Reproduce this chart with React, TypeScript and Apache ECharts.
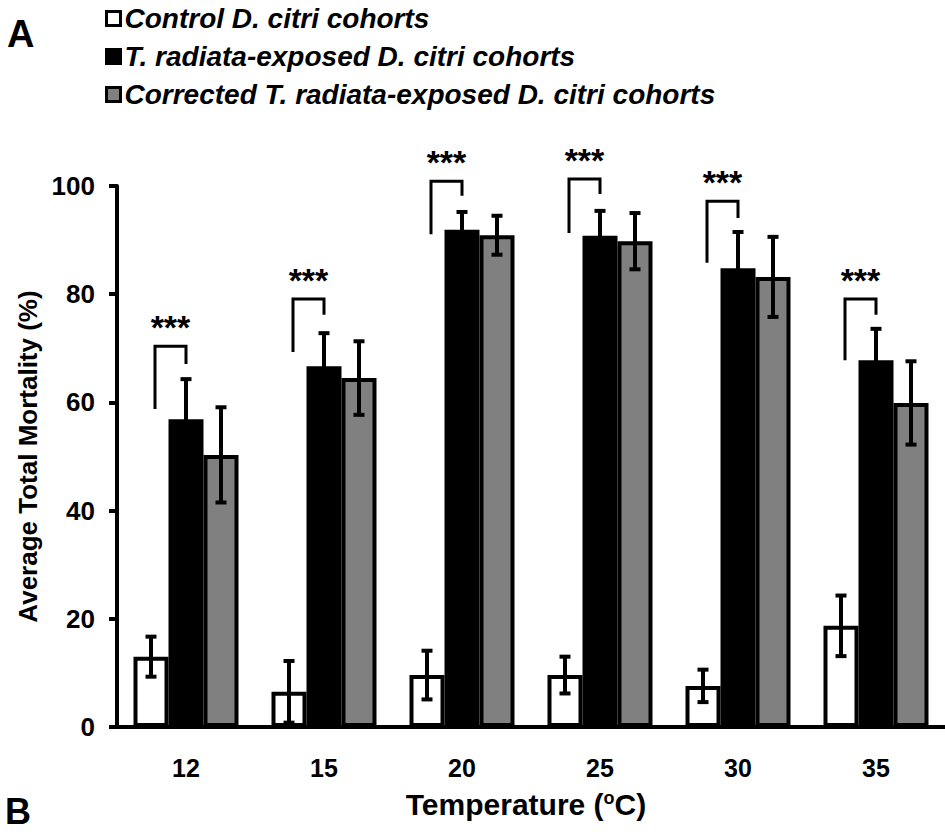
import React, { useEffect, useRef } from "react";
import * as echarts from "echarts";

const categories = ["12", "15", "20", "25", "30", "35"];
const seriesNames = [
  "Control D. citri cohorts",
  "T. radiata-exposed D. citri cohorts",
  "Corrected T. radiata-exposed D. citri cohorts",
];
const controlMean = [13.0, 6.5, 9.6, 9.6, 7.6, 18.7];
const controlErr = [3.7, 5.7, 4.5, 3.4, 3.0, 5.6];
const exposedMean = [56.9, 66.7, 91.9, 90.8, 84.8, 67.8];
const exposedErr = [7.4, 6.1, 3.3, 4.6, 6.7, 5.8];
const correctedMean = [50.3, 64.5, 90.9, 89.8, 83.2, 59.9];
const correctedErr = [8.8, 6.8, 3.6, 5.2, 7.4, 7.7];
// significance brackets (values on the y scale)
const bracketTop = [70.4, 79.1, 100.9, 101.3, 97.2, 79.1];
const bracketLeftEnd = [58.8, 69.3, 91.1, 91.3, 85.8, 67.8];
const bracketRightEnd = [67.1, 76.2, 98.2, 98.5, 94.1, 76.2];
const significance = ["***", "***", "***", "***", "***", "***"];
const yTicks = [0, 20, 40, 60, 80, 100];

const FONT = '"Liberation Sans", Arial, sans-serif';
const BAR_W = 35;

export default function App() {
  const ref = useRef<HTMLDivElement>(null);
  useEffect(() => {
    document.body.style.margin = "0";
    const chart = echarts.init(ref.current!, null, { renderer: "svg" });

    const errorSeries = (name: string, means: number[], errs: number[], offset: number) => ({
      type: "custom",
      name: name + " error",
      data: means.map((m, i) => [i, m - errs[i], m + errs[i]]),
      encode: { x: 0, y: [1, 2] },
      z: 5,
      silent: true,
      renderItem: (params: any, api: any) => {
        const lo = api.coord([api.value(0), api.value(1)]);
        const hi = api.coord([api.value(0), api.value(2)]);
        const x = lo[0] + offset;
        const cap = 5.5;
        const st = { stroke: "#000", lineWidth: 4 };
        return {
          type: "group",
          children: [
            { type: "line", shape: { x1: x, y1: lo[1], x2: x, y2: hi[1] }, style: st },
            { type: "line", shape: { x1: x - cap, y1: hi[1], x2: x + cap, y2: hi[1] }, style: st },
            { type: "line", shape: { x1: x - cap, y1: lo[1], x2: x + cap, y2: lo[1] }, style: st },
          ],
        };
      },
    });

    const option: any = {
      animation: false,
      backgroundColor: "#fff",
      grid: { left: 117, top: 186, width: 834, height: 541, containLabel: false },
      legend: {
        data: seriesNames,
        orient: "vertical",
        left: 100,
        top: -1,
        itemWidth: 14,
        itemHeight: 14,
        itemGap: 9,
        icon: "rect",
        itemStyle: { borderWidth: 3 },
        textStyle: {
          fontFamily: FONT,
          fontSize: 28,
          fontWeight: "bold",
          fontStyle: "italic",
          color: "#000",
          lineHeight: 29,
          padding: [0, 0, 0, -1],
        },
      },
      xAxis: {
        type: "category",
        data: categories,
        axisLine: { lineStyle: { color: "#000", width: 4 } },
        axisTick: { show: false },
        axisLabel: { fontFamily: FONT, fontSize: 25, fontWeight: "bold", color: "#000", margin: 28 },
        name: "Temperature ({sup|o}C)",
        nameLocation: "middle",
        nameGap: 62,
        nameTextStyle: {
          fontFamily: FONT,
          fontSize: 30,
          fontWeight: "bold",
          color: "#000",
          padding: [0, 10, 0, 0],
          rich: {
            sup: { fontFamily: FONT, fontSize: 18, fontWeight: "bold", color: "#000", verticalAlign: "top", lineHeight: 31 },
          },
        },
      },
      yAxis: {
        type: "value",
        min: yTicks[0],
        max: yTicks[yTicks.length - 1],
        interval: 20,
        axisLine: { show: true, lineStyle: { color: "#000", width: 4 } },
        axisTick: { show: true, length: 8, lineStyle: { color: "#000", width: 4 } },
        splitLine: { show: false },
        axisLabel: { fontFamily: FONT, fontSize: 26, fontWeight: "bold", color: "#000", margin: 22 },
        name: "Average Total Mortality (%)",
        nameLocation: "middle",
        nameGap: 68,
        nameRotate: 90,
        nameTextStyle: { fontFamily: FONT, fontSize: 26, fontWeight: "bold", color: "#000" },
      },
      series: [
        {
          type: "bar",
          name: seriesNames[0],
          data: controlMean,
          barWidth: BAR_W,
          barGap: "0%",
          itemStyle: { color: "#ffffff", borderColor: "#000", borderWidth: 4 },
        },
        {
          type: "bar",
          name: seriesNames[1],
          data: exposedMean,
          barWidth: BAR_W,
          barGap: "0%",
          itemStyle: { color: "#000000", borderColor: "#000", borderWidth: 4 },
        },
        {
          type: "bar",
          name: seriesNames[2],
          data: correctedMean,
          barWidth: BAR_W,
          barGap: "0%",
          itemStyle: { color: "#808080", borderColor: "#000", borderWidth: 4 },
        },
        errorSeries(seriesNames[0], controlMean, controlErr, -BAR_W),
        errorSeries(seriesNames[1], exposedMean, exposedErr, 0),
        errorSeries(seriesNames[2], correctedMean, correctedErr, BAR_W),
        {
          type: "custom",
          name: "significance",
          data: categories.map((c, i) => [i, bracketTop[i], bracketLeftEnd[i], bracketRightEnd[i]]),
          encode: { x: 0, y: [1, 2, 3] },
          z: 6,
          silent: true,
          clip: false,
          renderItem: (params: any, api: any) => {
            const i = api.value(0);
            const top = api.coord([i, api.value(1)]);
            const le = api.coord([i, api.value(2)]);
            const re = api.coord([i, api.value(3)]);
            const cx = top[0];
            const lx = cx - 31;
            return {
              type: "group",
              children: [
                {
                  type: "polyline",
                  shape: { points: [[lx, le[1]], [lx, top[1]], [cx, top[1]], [cx, re[1]]] },
                  style: { stroke: "#000", lineWidth: 3, fill: "none" },
                },
                {
                  type: "text",
                  style: {
                    text: significance[i],
                    x: cx - 15.5,
                    y: top[1] - 19,
                    align: "center",
                    verticalAlign: "middle",
                    fontFamily: FONT,
                    fontSize: 34,
                    fontWeight: "bold",
                    fill: "#000",
                  },
                },
              ],
            };
          },
        },
      ],
      graphic: [
        { type: "text", left: 7, top: 15, style: { text: "A", fontFamily: FONT, fontSize: 38, fontWeight: "bold", fill: "#000" } },
        { type: "text", left: 5, top: 793, style: { text: "B", fontFamily: FONT, fontSize: 36, fontWeight: "bold", fill: "#000" } },
      ],
    };
    chart.setOption(option);
    return () => chart.dispose();
  }, []);
  return <div ref={ref} style={{ position: "absolute", left: 0, top: 0, width: 945, height: 832 }} />;
}
